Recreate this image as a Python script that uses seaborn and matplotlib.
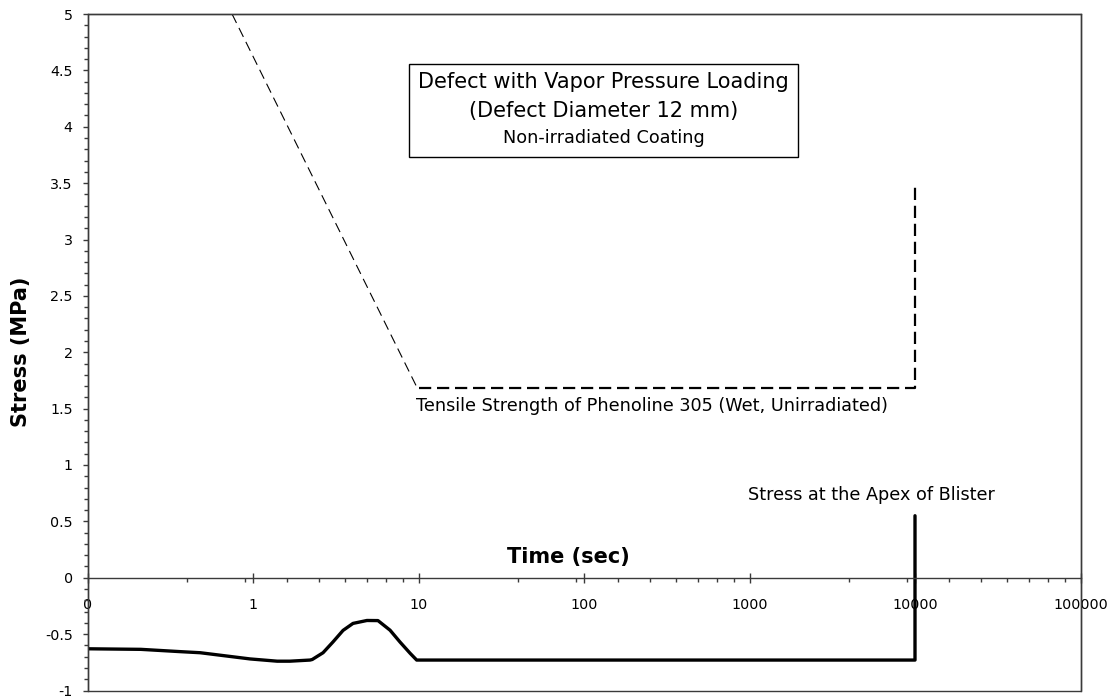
import matplotlib
matplotlib.use("Agg")
import matplotlib.pyplot as plt
from matplotlib.patches import Rectangle
from matplotlib.ticker import FixedLocator, FixedFormatter, MultipleLocator, FuncFormatter
import seaborn as sns
import pandas as pd

# Stress at the apex of the blister versus time
apex_time = [0.1, 0.21, 0.36, 0.48, 0.96, 1.40, 1.67, 2.21, 2.28, 2.65, 3.04, 3.50,
             4.02, 4.88, 5.69, 6.73, 7.73, 8.9, 9.75, 20, 100, 1000, 10000, 10000]
apex_stress = [-0.63, -0.635, -0.655, -0.665, -0.72, -0.74, -0.74, -0.73, -0.725, -0.665,
               -0.57, -0.467, -0.405, -0.379, -0.38, -0.465, -0.57, -0.67, -0.73, -0.73,
               -0.73, -0.73, -0.73, 0.55]

# Tensile strength of the coating: rate-dependent branch and wet plateau
strength_rate_time = [0.747, 9.7]
strength_rate_stress = [5.0, 1.70]
strength_plateau_time = [10, 10000, 10000]
strength_plateau_stress = [1.68, 1.68, 3.5]

x_ticks = [0.1, 1, 10, 100, 1000, 10000, 100000]
x_tick_labels = ["0", "1", "10", "100", "1000", "10000", "100000"]

sns.set_style("ticks")
plt.rcParams["font.family"] = ["DejaVu Sans"]
plt.rcParams["axes.unicode_minus"] = False
plt.rcParams["text.color"] = "black"
plt.rcParams["axes.labelcolor"] = "black"
plt.rcParams["xtick.color"] = "black"
plt.rcParams["ytick.color"] = "black"

fig = plt.figure(figsize=(11.16, 6.98), dpi=100)
W, H = 1116, 698
left, right, top, bottom = 87.5, 1080.5, 14, 690.5
ax = fig.add_axes([left / W, 1 - bottom / H, (right - left) / W, (bottom - top) / H])

apex_df = pd.DataFrame({"time": apex_time, "stress": apex_stress})
rate_df = pd.DataFrame({"time": strength_rate_time, "stress": strength_rate_stress})
plateau_df = pd.DataFrame({"time": strength_plateau_time, "stress": strength_plateau_stress})

sns.lineplot(data=rate_df, x="time", y="stress", sort=False, estimator=None,
             color="black", linewidth=0.8, linestyle=(0, (9, 5)), ax=ax)
sns.lineplot(data=plateau_df, x="time", y="stress", sort=False, estimator=None,
             color="black", linewidth=1.6, linestyle=(0, (5.5, 2.6)), ax=ax)
sns.lineplot(data=apex_df, x="time", y="stress", sort=False, estimator=None,
             color="black", linewidth=2.4, ax=ax)

ax.set_xscale("log")
ax.set_xlim(0.1, 100000)
ax.set_ylim(-1, 5)

# x axis crosses at zero stress
ax.spines["bottom"].set_position(("data", 0))
frame_color = "#3a3a3a"
for s in ax.spines.values():
    s.set_visible(True)
    s.set_color(frame_color)
    s.set_linewidth(1.0)
ax.patch.set_edgecolor(frame_color)
ax.patch.set_linewidth(1.0)

ax.xaxis.set_major_locator(FixedLocator(x_ticks))
ax.xaxis.set_major_formatter(FixedFormatter(x_tick_labels))
minor_x = [0.1 * (k * 10 ** e) ** 2 for e in range(3) for k in range(2, 10)]
ax.xaxis.set_minor_locator(FixedLocator(minor_x))
ax.xaxis.set_minor_formatter(FuncFormatter(lambda v, p: ""))
ax.tick_params(axis="x", which="both", bottom=True, top=False)
ax.tick_params(axis="x", which="major", direction="inout", length=6.8, width=1,
               color=frame_color, pad=11, labelsize=10.3, labelcolor="black")
ax.tick_params(axis="x", which="minor", direction="out", length=3, width=1,
               color=frame_color)

ax.yaxis.set_major_locator(MultipleLocator(0.5))
ax.yaxis.set_minor_locator(MultipleLocator(0.1))
ax.yaxis.set_major_formatter(FuncFormatter(lambda v, p: f"{v:g}"))
ax.tick_params(axis="y", which="both", left=True, right=False)
ax.tick_params(axis="y", which="major", direction="out", length=3.6, width=1,
               color=frame_color, pad=7, labelsize=10.3, labelcolor="black")
ax.tick_params(axis="y", which="minor", direction="out", length=3.0, width=1,
               color=frame_color)

ax.set_xlabel("Time (sec)", fontsize=15, fontweight="bold")
ax.xaxis.set_label_coords((568.5 - left) / (right - left), (bottom - 557) / (bottom - top))
ax.xaxis.label.set_va("center")
ax.set_ylabel("Stress (MPa)", fontsize=15, fontweight="bold")
ax.yaxis.label.set_va("center")
ax.yaxis.set_label_coords((21.5 - left) / (right - left), 0.5)

# Title box
def fx(px):
    return (px - left) / (right - left)

def fy(py):
    return (bottom - py) / (bottom - top)

ax.add_patch(Rectangle((fx(409), fy(157)), fx(798) - fx(409), fy(64) - fy(157),
                       transform=ax.transAxes, facecolor="white", edgecolor="black",
                       linewidth=1.0, zorder=5))
cx = fx(603.5)
ax.text(cx, fy(82), "Defect with Vapor Pressure Loading", transform=ax.transAxes,
        ha="center", va="center", fontsize=15, zorder=6)
ax.text(cx, fy(111), "(Defect Diameter 12 mm)", transform=ax.transAxes,
        ha="center", va="center", fontsize=15, zorder=6)
ax.text(cx, fy(138), "Non-irradiated Coating", transform=ax.transAxes,
        ha="center", va="center", fontsize=12.7, zorder=6)

ax.text(9.66, 1.52, "Tensile Strength of Phenoline 305 (Wet, Unirradiated)",
        ha="left", va="center", fontsize=12.7)
ax.text(980, 0.73, "Stress at the Apex of Blister", ha="left", va="center", fontsize=12.7)

fig.savefig("out.png", dpi=100)
